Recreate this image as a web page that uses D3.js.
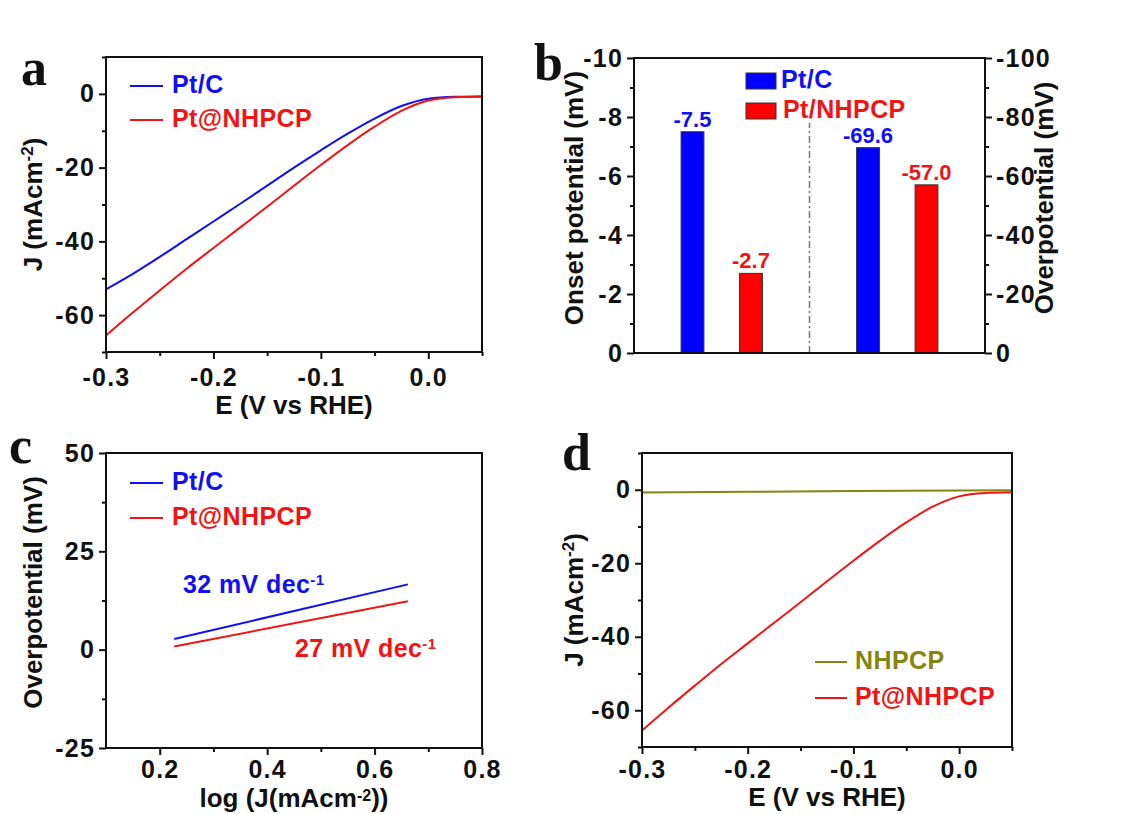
<!DOCTYPE html>
<html><head><meta charset="utf-8">
<script src="https://cdn.jsdelivr.net/npm/d3@7"></script>
<style>
body{margin:0;background:#fff;}
text{font-family:"Liberation Sans",Arial,sans-serif;font-weight:bold;}
</style></head>
<body><svg id="c" width="1131" height="814"></svg>
<script>
// ---------- DATA ----------
const potentialE = [-0.300,-0.275,-0.250,-0.225,-0.200,-0.175,-0.150,-0.125,-0.100,-0.075,-0.050,-0.025,0.000,0.025,0.050];
const ptC_J      = [-53.0,-48.8,-44.2,-39.4,-34.6,-29.8,-24.9,-20.0,-15.3,-10.8,-6.7,-3.3,-1.3,-0.8,-0.7];
const ptNHPCP_J  = [-65.5,-59.3,-53.3,-47.4,-41.8,-36.2,-30.6,-24.9,-19.3,-13.9,-8.9,-4.6,-1.8,-0.9,-0.7];
const nhpcpE     = [-0.30,-0.20,-0.10,0.00,0.05];
const nhpcp_J    = [-0.75,-0.55,-0.35,-0.20,-0.15];

const barCategories = ["Pt/C onset","Pt/NHPCP onset","Pt/C overpotential","Pt/NHPCP overpotential"];
const barSlots      = [1,2,4,5];
const barValues     = [-7.5,-2.7,-69.6,-57.0];
const barAxis       = ["left","left","right","right"];
const barLabels     = ["-7.5","-2.7","-69.6","-57.0"];
const dividerSlot   = 3;
const dividerRange  = [0,-7.8];

const tafelLogJ   = [0.227,0.662];
const tafelPtC    = [2.7,16.6];
const tafelNHPCP  = [0.8,12.3];

const eTicks = [-0.3,-0.2,-0.1,0.0];
const eTickLabels = ["-0.3","-0.2","-0.1","0.0"];
const jTicks = [0,-20,-40,-60];
const jTickLabels = ["0","-20","-40","-60"];
const onsetTicks = [0,-2,-4,-6,-8,-10];
const onsetTickLabels = ["0","-2","-4","-6","-8","-10"];
const overTicks = [0,-20,-40,-60,-80,-100];
const overTickLabels = ["0","-20","-40","-60","-80","-100"];
const cYTicks = [-25,0,25,50];
const cYTickLabels = ["-25","0","25","50"];
const cXTicks = [0.2,0.4,0.6,0.8];
const cXTickLabels = ["0.2","0.4","0.6","0.8"];

// ---------- STYLE ----------
const BLUE="#1010f0", RED="#f01414", OLIVE="#85850f";
const svg = d3.select("#c");
const TICKF=25, TITLEF=26, LEGF=25, TICKLS=1.2;

function frame(box){
  svg.append("rect").attr("x",box.l).attr("y",box.t).attr("width",box.r-box.l).attr("height",box.b-box.t)
    .attr("fill","none").attr("stroke","#111").attr("stroke-width",2);
}
function styleAxis(g){
  g.select(".domain").remove();
  g.selectAll("line").attr("stroke","#111").attr("stroke-width",2);
}
function tickText(g){
  g.selectAll("text").attr("font-size",TICKF).attr("fill","#111").attr("letter-spacing",TICKLS);
}
function leftAxis(box,y,ticks,labels,minor){
  const g=svg.append("g").attr("transform",`translate(${box.l},0)`)
    .call(d3.axisLeft(y).tickValues(ticks).tickSize(7).tickFormat((d,i)=>labels[i]));
  styleAxis(g); tickText(g);
  g.selectAll("text").attr("dx","-1");
  const m=svg.append("g").attr("transform",`translate(${box.l},0)`)
    .call(d3.axisLeft(y).tickValues(minor).tickSize(4).tickFormat(""));
  styleAxis(m);
}
function rightAxis(box,y,ticks,labels,minor){
  const g=svg.append("g").attr("transform",`translate(${box.r},0)`)
    .call(d3.axisRight(y).tickValues(ticks).tickSize(7).tickFormat((d,i)=>labels[i]));
  styleAxis(g); tickText(g);
  g.selectAll("text").attr("dx","1");
  const m=svg.append("g").attr("transform",`translate(${box.r},0)`)
    .call(d3.axisRight(y).tickValues(minor).tickSize(4).tickFormat(""));
  styleAxis(m);
}
function bottomAxis(box,x,ticks,labels,minor,dy){
  const g=svg.append("g").attr("transform",`translate(0,${box.b})`)
    .call(d3.axisBottom(x).tickValues(ticks).tickSize(7).tickFormat((d,i)=>labels[i]));
  styleAxis(g); tickText(g);
  g.selectAll("text").attr("dy",dy||"0.95em");
  const m=svg.append("g").attr("transform",`translate(0,${box.b})`)
    .call(d3.axisBottom(x).tickValues(minor).tickSize(4).tickFormat(""));
  styleAxis(m);
}
function yTitle(x,y,parts){
  const t=svg.append("text").attr("transform",`translate(${x},${y}) rotate(-90)`)
    .attr("text-anchor","middle").attr("font-size",TITLEF).attr("fill","#111");
  parts.forEach(p=>{const s=t.append("tspan").text(p.t); if(p.sup) s.attr("baseline-shift","super").attr("font-size",17);});
}
function xTitle(x,y,parts){
  const t=svg.append("text").attr("x",x).attr("y",y).attr("text-anchor","middle").attr("font-size",TITLEF).attr("fill","#111");
  parts.forEach(p=>{const s=t.append("tspan").text(p.t); if(p.sup) s.attr("baseline-shift","35%").attr("font-size",16);});
}
function letter(x,y,s){
  svg.append("text").attr("x",x).attr("y",y).text(s).attr("font-size",52)
    .style("font-family","'Liberation Serif','Times New Roman',serif").attr("fill","#111");
}
function legendLine(x1,x2,y,color,label,tx){
  svg.append("line").attr("x1",x1).attr("x2",x2).attr("y1",y).attr("y2",y).attr("stroke",color).attr("stroke-width",2);
  svg.append("text").attr("x",tx).attr("y",y+7).text(label).attr("font-size",LEGF).attr("fill",color).attr("letter-spacing",0.4);
}
const eMinor=[-0.25,-0.15,-0.05,0.05];
const jMinor=[10,-10,-30,-50,-70];

// ---------- PANEL A ----------
const A={l:106,r:482,t:57,b:352};
const xA=d3.scaleLinear().domain([-0.3,0.05]).range([A.l,A.r]);
const yA=d3.scaleLinear().domain([-70,10]).range([A.b,A.t]);
const lineA=d3.line().x((d,i)=>xA(potentialE[i])).y(d=>yA(d)).curve(d3.curveMonotoneX);
svg.append("path").attr("d",lineA(ptC_J)).attr("fill","none").attr("stroke",BLUE).attr("stroke-width",2);
svg.append("path").attr("d",lineA(ptNHPCP_J)).attr("fill","none").attr("stroke",RED).attr("stroke-width",2);
frame(A);
leftAxis(A,yA,jTicks,jTickLabels,jMinor);
bottomAxis(A,xA,eTicks,eTickLabels,eMinor);
yTitle(42,(A.t+A.b)/2,[{t:"J (mAcm"},{t:"-2",sup:1},{t:")"}]);
xTitle((A.l+A.r)/2,414,[{t:"E (V vs RHE)"}]);
legendLine(130,163,86,BLUE,"Pt/C",172);
legendLine(130,163,120,RED,"Pt@NHPCP",172);
letter(21,85,"a");

// ---------- PANEL B ----------
const B={l:634,r:985,t:58,b:353};
const xB=d3.scaleLinear().domain([0,6]).range([B.l,B.r]);
const yBl=d3.scaleLinear().domain([0,-10]).range([B.b,B.t]);
const yBr=d3.scaleLinear().domain([0,-100]).range([B.b,B.t]);
const bw=(xB(1)-xB(0))*0.39;
barValues.forEach((v,i)=>{
  const ys = barAxis[i]==="left"?yBl:yBr;
  const col = i%2===0?"#0000ff":"#ff0000";
  svg.append("rect").attr("x",xB(barSlots[i])-bw/2).attr("width",bw)
    .attr("y",ys(v)).attr("height",ys(0)-ys(v)).attr("fill",col).attr("stroke","#333").attr("stroke-width",1);
  svg.append("text").attr("x",xB(barSlots[i])).attr("y",ys(v)-5).attr("text-anchor","middle")
    .attr("font-size",22).attr("fill",i%2===0?BLUE:RED).text(barLabels[i]);
});
svg.append("line").attr("x1",xB(dividerSlot)).attr("x2",xB(dividerSlot))
  .attr("y1",yBl(dividerRange[0])).attr("y2",yBl(dividerRange[1]))
  .attr("stroke","#777").attr("stroke-width",1.5).attr("stroke-dasharray","7,3,2,3");
frame(B);
leftAxis(B,yBl,onsetTicks,onsetTickLabels,[-1,-3,-5,-7,-9]);
rightAxis(B,yBr,overTicks,overTickLabels,[-10,-30,-50,-70,-90]);
yTitle(583,198,[{t:"Onset potential (mV)"}]);
yTitle(1053,198,[{t:"Overpotential (mV)"}]);
svg.append("rect").attr("x",746).attr("y",73).attr("width",30).attr("height",16).attr("fill","#0000ff").attr("stroke","#333").attr("stroke-width",1);
svg.append("text").attr("x",781).attr("y",88).attr("font-size",LEGF).attr("fill",BLUE).attr("letter-spacing",0.4).text("Pt/C");
svg.append("rect").attr("x",746).attr("y",103).attr("width",30).attr("height",16).attr("fill","#ff0000").attr("stroke","#333").attr("stroke-width",1);
svg.append("text").attr("x",783).attr("y",118).attr("font-size",LEGF).attr("fill",RED).attr("letter-spacing",0.4).text("Pt/NHPCP");
letter(534,80,"b");

// ---------- PANEL C ----------
const C={l:106,r:482,t:453,b:748};
const xC=d3.scaleLinear().domain([0.1,0.8]).range([C.l,C.r]);
const yC=d3.scaleLinear().domain([-25,50]).range([C.b,C.t]);
const lineC=d3.line().x((d,i)=>xC(tafelLogJ[i])).y(d=>yC(d));
svg.append("path").attr("d",lineC(tafelPtC)).attr("fill","none").attr("stroke",BLUE).attr("stroke-width",2);
svg.append("path").attr("d",lineC(tafelNHPCP)).attr("fill","none").attr("stroke",RED).attr("stroke-width",2);
frame(C);
leftAxis(C,yC,cYTicks,cYTickLabels,[37.5,12.5,-12.5]);
bottomAxis(C,xC,cXTicks,cXTickLabels,[0.3,0.5,0.7],"0.8em");
yTitle(42,(C.t+C.b)/2-8,[{t:"Overpotential (mV)"}]);
xTitle((C.l+C.r)/2,807,[{t:"log (J(mAcm"},{t:"-2",sup:1},{t:"))"}]);
legendLine(130,163,483,BLUE,"Pt/C",172);
legendLine(130,163,518,RED,"Pt@NHPCP",172);
{const t=svg.append("text").attr("x",183).attr("y",593).attr("font-size",LEGF).attr("fill",BLUE).attr("letter-spacing",0.4);
 t.append("tspan").text("32 mV dec"); t.append("tspan").text("-1").attr("baseline-shift","super").attr("font-size",15);}
{const t=svg.append("text").attr("x",295).attr("y",657).attr("font-size",LEGF).attr("fill",RED).attr("letter-spacing",0.4);
 t.append("tspan").text("27 mV dec"); t.append("tspan").text("-1").attr("baseline-shift","super").attr("font-size",15);}
letter(9,463,"c");

// ---------- PANEL D ----------
const D={l:642,r:1012,t:453,b:747};
const xD=d3.scaleLinear().domain([-0.3,0.05]).range([D.l,D.r]);
const yD=d3.scaleLinear().domain([-70,10]).range([D.b,D.t]);
const lineD=d3.line().x((d,i)=>xD(potentialE[i])).y(d=>yD(d)).curve(d3.curveMonotoneX);
const lineN=d3.line().x((d,i)=>xD(nhpcpE[i])).y(d=>yD(d));
svg.append("path").attr("d",lineN(nhpcp_J)).attr("fill","none").attr("stroke",OLIVE).attr("stroke-width",2);
svg.append("path").attr("d",lineD(ptNHPCP_J)).attr("fill","none").attr("stroke",RED).attr("stroke-width",2);
frame(D);
leftAxis(D,yD,jTicks,jTickLabels,jMinor);
bottomAxis(D,xD,eTicks,eTickLabels,eMinor,"0.85em");
yTitle(583,(D.t+D.b)/2,[{t:"J (mAcm"},{t:"-2",sup:1},{t:")"}]);
xTitle((D.l+D.r)/2,806,[{t:"E (V vs RHE)"}]);
legendLine(815,847,662,OLIVE,"NHPCP",855);
legendLine(815,847,698,RED,"Pt@NHPCP",855);
letter(562,470,"d");
</script></body></html>
